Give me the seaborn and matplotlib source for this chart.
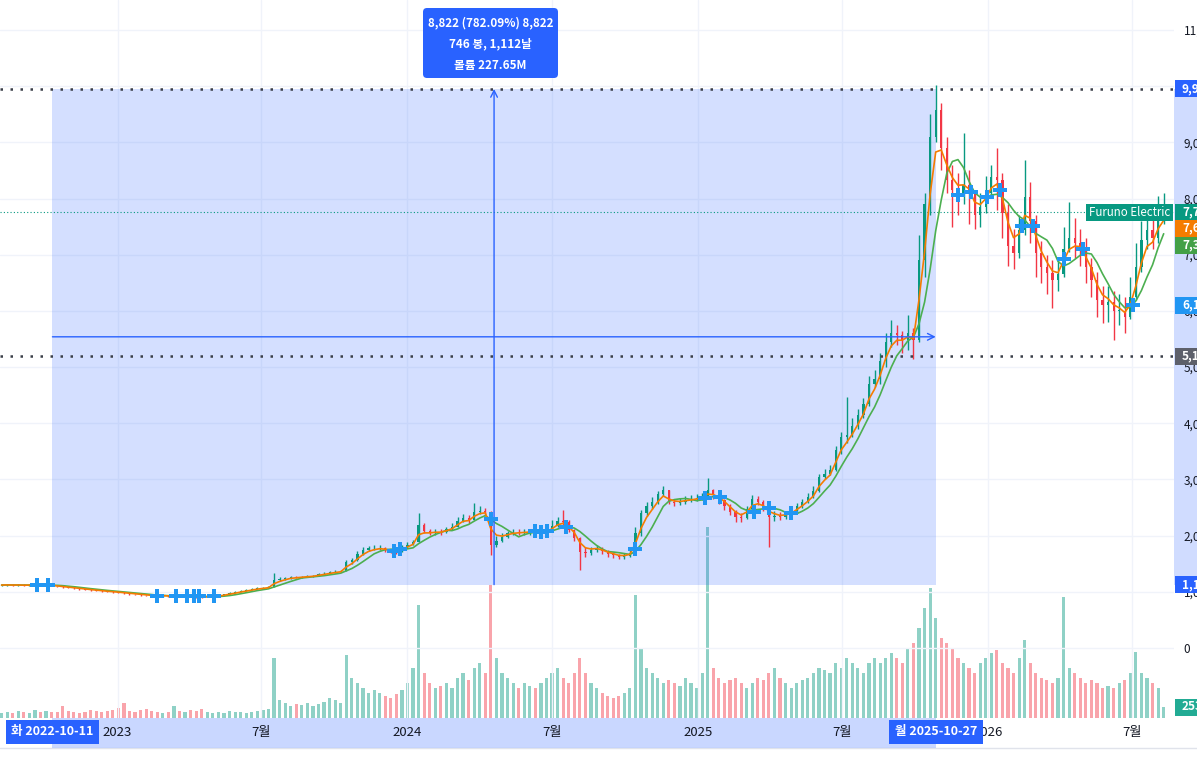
import numpy as np
import pandas as pd
import matplotlib
matplotlib.use("Agg")
import matplotlib.pyplot as plt
import matplotlib.dates as mdates
import matplotlib.transforms as mtransforms
from matplotlib.patches import Rectangle, FancyBboxPatch
from matplotlib.lines import Line2D
import seaborn as sns

# ---- data (weekly bars) ----
first_week = "2022-08-08"
first_open = 1118

closes = [
    1120, 1125, 1118, 1122, 1115, 1120, 1125, 1118, 1122, 1110,
    1095, 1085, 1075, 1060, 1050, 1040, 1030, 1020, 1012, 1000,
    995, 985, 975, 965, 955, 945, 935, 928, 925, 930,
    925, 928, 920, 925, 915, 910, 908, 912, 915, 935,
    955, 975, 995, 1015, 1030, 1050, 1065, 1075, 1085, 1215,
    1225, 1245, 1264, 1260, 1270, 1275, 1285, 1310, 1325, 1345,
    1360, 1370, 1530, 1560, 1670, 1740, 1775, 1780, 1785, 1750,
    1720, 1710, 1790, 1840, 1890, 2190, 2080, 2050, 2070, 2065,
    2110, 2160, 2260, 2320, 2280, 2420, 2440, 2420, 1830, 1900,
    1975, 2040, 2065, 2060, 2065, 2070, 2060, 2065, 2070, 2180,
    2260, 2250, 2100, 1950, 1700, 1690, 1740, 1780, 1720, 1670,
    1650, 1620, 1640, 1690, 2050, 2400, 2520, 2600, 2740, 2810,
    2600, 2580, 2600, 2634, 2650, 2670, 2690, 2810, 2720, 2640,
    2530, 2420, 2330, 2315, 2470, 2650, 2600, 2500, 2330, 2350,
    2330, 2380, 2420, 2530, 2600, 2690, 2800, 3040, 3100, 3170,
    3520, 3750, 3800, 3950, 4150, 4350, 4700, 4780, 5100, 5450,
    5600, 5580, 5480, 5600, 5480, 6900, 7900, 9100, 9580, 8900,
    8330, 8150, 8100, 8250, 8100, 7700, 7850, 8100, 8380, 8330,
    7750, 7150, 7030, 7440, 8030, 7600, 7030, 6780, 6680, 6550,
    6650, 7100, 7300, 7210, 7140, 6780, 6550, 6190, 6100, 6150,
    6000, 6000, 5890, 6250, 6780, 7260, 7440, 7300, 7700, 7760,
]
highs = [
    1135, 1140, 1135, 1138, 1132, 1135, 1140, 1135, 1138, 1128,
    1112, 1100, 1090, 1078, 1065, 1055, 1045, 1035, 1028, 1018,
    1010, 1000, 990, 980, 970, 960, 950, 942, 940, 945,
    940, 942, 935, 940, 930, 925, 922, 926, 930, 950,
    970, 990, 1010, 1030, 1045, 1065, 1080, 1090, 1100, 1335,
    1260, 1270, 1290, 1285, 1290, 1300, 1305, 1330, 1345, 1365,
    1380, 1395, 1560, 1600, 1720, 1790, 1820, 1830, 1840, 1800,
    1770, 1760, 1830, 1880, 1930, 2400, 2230, 2120, 2120, 2110,
    2160, 2230, 2330, 2390, 2360, 2580, 2520, 2500, 2440, 1990,
    2040, 2090, 2110, 2110, 2110, 2120, 2110, 2110, 2120, 2280,
    2340, 2456, 2280, 2120, 1980, 1790, 1800, 1840, 1800, 1740,
    1710, 1680, 1690, 1740, 2150, 2460, 2600, 2680, 2800, 2880,
    2820, 2650, 2670, 2700, 2720, 2740, 2760, 3030, 2830, 2760,
    2650, 2560, 2450, 2400, 2520, 2720, 2700, 2640, 2550, 2430,
    2420, 2440, 2480, 2580, 2660, 2750, 2880, 3100, 3180, 3260,
    3600, 3850, 4470, 4100, 4250, 4450, 4850, 4950, 5250, 5600,
    5840, 5750, 5650, 5930, 5700, 7350, 8100, 9500, 10020, 9700,
    9100, 8600, 8450, 9170, 8500, 8150, 8100, 8400, 8600, 8900,
    8450, 7900, 7450, 7700, 8690, 8300, 7700, 7250, 7000, 6900,
    6950, 7500, 7940, 7650, 7450, 7300, 6950, 6700, 6450, 6450,
    6350, 6300, 6250, 6600, 7200, 7600, 7850, 7750, 8050, 8100,
]
lows = [
    1105, 1110, 1105, 1108, 1100, 1105, 1110, 1105, 1108, 1095,
    1080, 1070, 1062, 1048, 1038, 1028, 1018, 1008, 1000, 988,
    982, 972, 962, 952, 942, 932, 922, 915, 912, 915,
    912, 915, 905, 912, 902, 898, 895, 900, 902, 912,
    935, 955, 975, 995, 1012, 1028, 1048, 1060, 1070, 1080,
    1200, 1215, 1235, 1240, 1250, 1258, 1265, 1280, 1300, 1320,
    1340, 1350, 1365, 1500, 1540, 1660, 1720, 1740, 1745, 1710,
    1690, 1680, 1700, 1780, 1830, 1880, 2040, 2010, 2020, 2020,
    2050, 2100, 2150, 2250, 2220, 2270, 2380, 2360, 1650, 1800,
    1880, 1960, 2010, 2010, 2015, 2020, 2010, 2015, 2020, 2060,
    2160, 2180, 2060, 1900, 1390, 1620, 1660, 1700, 1680, 1620,
    1600, 1580, 1590, 1620, 1680, 2000, 2350, 2480, 2560, 2700,
    2560, 2520, 2540, 2570, 2590, 2610, 2630, 2680, 2650, 2570,
    2460, 2360, 2250, 2240, 2300, 2450, 2540, 2440, 1800, 2260,
    2270, 2300, 2350, 2400, 2500, 2580, 2670, 2780, 3000, 3080,
    3150, 3450, 3650, 3750, 3900, 4100, 4300, 4650, 4700, 5000,
    5350, 5400, 5250, 5300, 5150, 5450, 6600, 7700, 9000, 8500,
    8100, 7500, 7700, 7900, 7550, 7450, 7500, 7750, 8050, 7800,
    7300, 6800, 6750, 6950, 7350, 7200, 6600, 6500, 6300, 6050,
    6350, 6600, 7050, 6950, 6800, 6500, 6250, 5900, 5780, 5800,
    5480, 5750, 5600, 5850, 6200, 6700, 7100, 7100, 7200, 7550,
]
volumes_k = [
    115, 138, 115, 161, 138, 115, 184, 138, 161, 138,
    138, 276, 161, 138, 115, 138, 184, 161, 138, 161,
    184, 230, 345, 161, 138, 184, 207, 161, 138, 115,
    138, 276, 161, 138, 184, 161, 207, 138, 115, 138,
    115, 161, 138, 138, 115, 138, 161, 184, 207, 1380,
    414, 345, 276, 322, 299, 345, 276, 322, 368, 460,
    414, 345, 1449, 920, 805, 690, 575, 644, 575, 506,
    460, 552, 644, 805, 1150, 2599, 1035, 805, 690, 736,
    805, 690, 920, 1035, 874, 1150, 1265, 1035, 3059, 1380,
    1035, 920, 805, 690, 805, 736, 690, 805, 920, 1035,
    1150, 920, 805, 1035, 1380, 1035, 805, 690, 575, 506,
    460, 506, 575, 690, 2829, 1610, 1150, 1035, 920, 805,
    874, 805, 736, 920, 805, 690, 1035, 4393, 1150, 920,
    805, 874, 920, 805, 690, 805, 920, 874, 1035, 1150,
    920, 805, 690, 805, 874, 920, 1035, 1150, 1104, 1035,
    1265, 1150, 1380, 1265, 1150, 1035, 1265, 1380, 1265, 1380,
    1495, 1380, 1265, 1610, 1725, 2070, 2530, 2990, 2300, 1840,
    1725, 1610, 1380, 1265, 1150, 1035, 1265, 1380, 1495, 1564,
    1265, 1150, 1035, 1380, 1794, 1265, 1035, 920, 874, 805,
    920, 2783, 1150, 1035, 920, 805, 874, 805, 690, 736,
    690, 805, 874, 1035, 1518, 1035, 920, 805, 690, 253,
]

signal_dates = [
    "2022-09-22", "2022-10-05", "2023-02-20", "2023-03-16", "2023-03-29",
    "2023-04-07", "2023-04-13", "2023-05-03", "2023-12-15", "2023-12-22",
    "2024-04-15", "2024-06-10", "2024-06-17", "2024-06-25", "2024-07-19",
    "2024-10-14", "2025-01-10", "2025-01-29", "2025-03-12", "2025-03-31",
    "2025-04-28", "2025-11-24", "2025-12-10", "2025-12-30", "2026-01-16",
    "2026-02-13", "2026-02-27", "2026-04-06", "2026-05-01", "2026-07-02",
]
signal_prices = [
    1121, 1121, 926, 926, 926,
    926, 926, 926, 1727, 1762,
    2296, 2083, 2065, 2083, 2154,
    1762, 2670, 2688, 2421, 2500,
    2403, 8063, 8117, 8028, 8152,
    7520, 7520, 6932, 7110, 6105,
]

tick_dates = ["2023-01-01", "2023-07-01", "2024-01-01", "2024-07-01",
              "2025-01-01", "2025-07-01", "2026-01-01", "2026-07-01"]
tick_labels = ["2023", "7월", "2024", "7월", "2025", "7월", "2026", "7월"]
price_ticks = list(range(0, 12000, 1000))

measure_start, measure_end = "2022-10-11", "2025-10-27"
measure_low, measure_high = 1128, 9950
measure_bars, measure_days, measure_volume = "746", "1,112", "227.65M"
level_line = 5197
ticker = "Furuno Electric"

# ---- frame ----
W, H = 1197, 761
UP, DOWN = "#089981", "#f23645"
BLUE = "#2962ff"

df = pd.DataFrame({
    "date": pd.date_range(first_week, periods=len(closes), freq="7D"),
    "close": closes, "high": highs, "low": lows, "volume": volumes_k,
})
df["open"] = df["close"].shift(1).fillna(first_open)
df["high"] = df[["high", "open", "close"]].max(axis=1)
df["low"] = df[["low", "open", "close"]].min(axis=1)
df["ema"] = df["close"].ewm(span=3, adjust=False).mean()
df["sma"] = df["close"].rolling(6, min_periods=1).mean()
up = df["close"] >= df["open"]
colors = np.where(up, UP, DOWN)

sns.set_theme(style="white")
plt.rcParams["font.family"] = ["Noto Sans CJK KR", "DejaVu Sans"]
plt.rcParams["axes.unicode_minus"] = False

fig = plt.figure(figsize=(W / 100, H / 100), dpi=100)
fig.patch.set_facecolor("white")
rect = [0, (H - 718) / H, 1174 / W, 718 / H]
axv = fig.add_axes(rect)
ax = fig.add_axes(rect, sharex=axv)
ax.set_zorder(2)
ax.patch.set_visible(False)
axv.set_zorder(1)

# volume
axv.bar(df["date"], df["volume"], width=4.0,
        color=list(colors), alpha=0.45, linewidth=0)
axv.set_ylim(0, 718 * 23)
axv.set_yticks([])
for s in axv.spines.values():
    s.set_visible(False)
axv.tick_params(axis="x", length=0, labelbottom=False)

# grid
for p in price_ticks:
    ax.axhline(p, color="#f0f3fa", lw=1, zorder=0)
for d in tick_dates:
    ax.axvline(pd.Timestamp(d), color="#f0f3fa", lw=1, zorder=0)

# measure region
ms, me = pd.Timestamp(measure_start), pd.Timestamp(measure_end)
mid = ms + (me - ms) / 2
ax.add_patch(Rectangle((mdates.date2num(ms), measure_low),
                       mdates.date2num(me) - mdates.date2num(ms),
                       measure_high - measure_low,
                       facecolor=BLUE, alpha=0.2, linewidth=0, zorder=1))

# candles
ax.vlines(df["date"], df["low"], df["high"], colors=colors, lw=1.0, zorder=3)
body_low = df[["open", "close"]].min(axis=1)
body_h = (df["close"] - df["open"]).abs().clip(lower=8)
ax.bar(df["date"], body_h, bottom=body_low, width=2.8, color=colors,
       linewidth=0, zorder=3)

sns.lineplot(data=df, x="date", y="sma", ax=ax, color="#4caf50", lw=1.2, zorder=4)
sns.lineplot(data=df, x="date", y="ema", ax=ax, color="#f57c00", lw=1.2, zorder=4)
sns.scatterplot(x=pd.to_datetime(signal_dates), y=signal_prices, ax=ax,
                marker="P", s=110, color="#2196f3", linewidth=0, zorder=6)

# horizontal lines
ax.axhline(measure_high, color="#3a3e48", ls=(0, (1, 3)), lw=1.8, zorder=5)
ax.axhline(level_line, color="#3a3e48", ls=(0, (1, 3)), lw=1.8, zorder=5)
ax.axhline(closes[-1], color=UP, ls=(0, (1, 2)), lw=0.8, zorder=2)

# measure arrows
mid_price = (measure_low + measure_high) / 2
ax.annotate("", xy=(mid, measure_high), xytext=(mid, measure_low),
            arrowprops=dict(arrowstyle="->", color=BLUE, lw=1,
                            shrinkA=0, shrinkB=0), zorder=5)
ax.annotate("", xy=(me, mid_price), xytext=(ms, mid_price),
            arrowprops=dict(arrowstyle="->", color=BLUE, lw=1,
                            shrinkA=0, shrinkB=0), zorder=5)

# axes
ax.set_xlim(pd.Timestamp("2022-08-06"), pd.Timestamp("2026-08-23"))
ax.set_ylim(-1246, 11534)
ax.set_xlabel("")
ax.set_ylabel("")
for s in ax.spines.values():
    s.set_visible(False)
ax.yaxis.tick_right()
ax.set_yticks(price_ticks)
ax.set_yticklabels([f"{p:,}" for p in price_ticks])
ax.tick_params(axis="y", length=0, pad=7, labelsize=8.5, labelcolor="#131722")
ax.set_xticks(pd.to_datetime(tick_dates))
ax.set_xticklabels(tick_labels)
ax.tick_params(axis="x", length=0, pad=6, labelsize=9.5, labelcolor="#131722")
ax.grid(False)
axv.grid(False)

# shaded strips on the axes
ty = mtransforms.blended_transform_factory(ax.transAxes, ax.transData)
ax.add_patch(Rectangle((1.0, measure_low), 0.03, measure_high - measure_low,
                       transform=ty, facecolor=BLUE, alpha=0.22, lw=0,
                       clip_on=False, zorder=0.1))
tx = mtransforms.blended_transform_factory(ax.transData, ax.transAxes)
ax.add_patch(Rectangle((mdates.date2num(ms), -30 / 718),
                       mdates.date2num(me) - mdates.date2num(ms), 30 / 718,
                       transform=tx, facecolor=BLUE, alpha=0.25, lw=0,
                       clip_on=False, zorder=0.1))
fig.add_artist(Line2D([0, 1], [1 - 748 / H, 1 - 748 / H], color="#e0e3eb",
                      lw=1, transform=fig.transFigure))

# date tags on time axis
for d, lab in [(ms, "화 " + measure_start), (me, "월 " + measure_end)]:
    ax.text(d, -14 / 718, lab, transform=tx, ha="center", va="center",
            color="white", fontsize=9, fontweight="bold", clip_on=False,
            zorder=10,
            bbox=dict(boxstyle="square,pad=0.45", fc=BLUE, ec="none"))

ident = mtransforms.IdentityTransform()


def ypix(axis, val):
    return axis.transData.transform((0, val))[1]


def price_tag(yd, text, color):
    fig.add_artist(Rectangle((1175, yd - 8.5), 40, 17, transform=ident,
                             facecolor=color, lw=0, zorder=5))
    fig.text(1182 / W, yd / H, text, color="white", fontsize=8.5,
             fontweight="bold", ha="left", va="center", zorder=6)


y_last = ypix(ax, closes[-1])
price_tag(ypix(ax, measure_high), f"{measure_high:,}", BLUE)
price_tag(y_last, f"{closes[-1]:,}", UP)
price_tag(y_last - 16, f"{df['ema'].iloc[-1]:,.0f}", "#f57c00")
price_tag(y_last - 33, f"{df['sma'].iloc[-1]:,.0f}", "#43a047")
price_tag(ypix(ax, signal_prices[-1]), f"{signal_prices[-1]:,}", "#2196f3")
price_tag(ypix(ax, level_line), f"{level_line:,}", "#5d606b")
price_tag(ypix(ax, measure_low), f"{measure_low:,}", BLUE)
price_tag(ypix(axv, volumes_k[-1]), f"{volumes_k[-1]:.1f}K", "#22ab94")

# ticker tag
fig.add_artist(Rectangle((1086, y_last - 8.5), 87, 17, transform=ident,
                         facecolor=UP, lw=0, zorder=5))
fig.text(1129.5 / W, y_last / H, ticker, color="white", fontsize=8.3,
         ha="center", va="center", zorder=6)

# measure tooltip
pct = (measure_high - measure_low) / measure_low * 100
diff = measure_high - measure_low
fig.add_artist(FancyBboxPatch((423, H - 78), 135, 70,
                              boxstyle="round,pad=0,rounding_size=4",
                              transform=ident, facecolor=BLUE, lw=0, zorder=5))
lines = [f"{diff:,} ({pct:.2f}%) {diff:,}",
         f"{measure_bars} 봉, {measure_days}날",
         f"볼륨 {measure_volume}"]
for i, t in enumerate(lines):
    fig.text(490.5 / W, 1 - (23 + 21 * i) / H, t, color="white", fontsize=8.4,
             fontweight="bold", ha="center", va="center", zorder=6)

fig.savefig("out.png", dpi=100)
